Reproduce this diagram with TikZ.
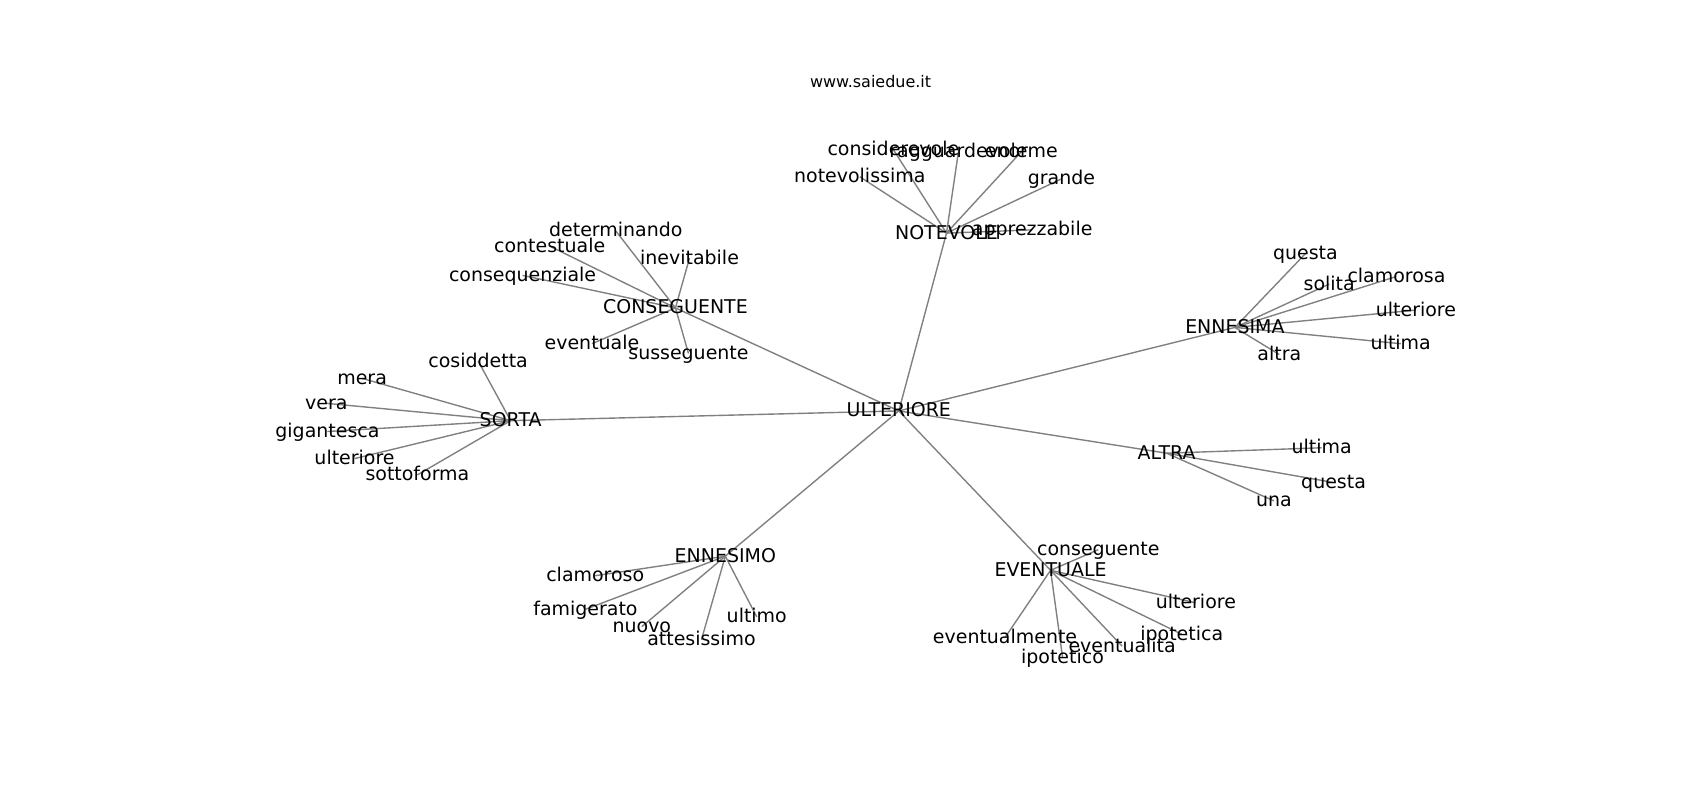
\documentclass[tikz,border=0pt]{standalone}
\usepackage{fontspec}
\setmainfont{DejaVu Sans}
\pgfdeclarelayer{bg}
\pgfsetlayers{bg,main}
\tikzset{
  lbl/.style={inner sep=0pt, text height=1.1em, text depth=0.236em, anchor=center, font=\fontsize{13.65}{16}\selectfont},
  ttl/.style={inner sep=0pt, anchor=center, font=\fontsize{11.5}{14}\selectfont},
  edge/.style={draw=gray, line width=1pt}
}
\begin{document}
\begin{tikzpicture}[x=0.7806pt, y=-0.7806pt]
\useasboundingbox (0,0) rectangle (1568,738);
\node[ttl] (title) at (803,75) {www.saiedue.it};
% hubs
\node[lbl] (U) at (829,379) {ULTERIORE};
\node[lbl] (NOT) at (873,215) {NOTEVOLE};
\node[lbl] (CON) at (623,284) {CONSEGUENTE};
\node[lbl] (SOR) at (471,388) {SORTA};
\node[lbl] (ENA) at (1139,302) {ENNESIMA};
\node[lbl] (ALT) at (1076,418) {ALTRA};
\node[lbl] (ENO) at (669,513) {ENNESIMO};
\node[lbl] (EVE) at (969,526) {EVENTUALE};
% NOTEVOLE leaves
\node[lbl] (n1) at (824,138) {considerevole};
\node[lbl] (n2) at (884,140) {ragguardevole};
\node[lbl] (n3) at (942,140) {enorme};
\node[lbl] (n4) at (793,163) {notevolissima};
\node[lbl] (n5) at (979,165) {grande};
\node[lbl] (n6) at (952,212) {apprezzabile};
% CONSEGUENTE leaves
\node[lbl] (c1) at (568,213) {determinando};
\node[lbl] (c2) at (507,227) {contestuale};
\node[lbl] (c3) at (482,254) {consequenziale};
\node[lbl] (c4) at (636,238) {inevitabile};
\node[lbl] (c5) at (546,317) {eventuale};
\node[lbl] (c6) at (635,326) {susseguente};
% SORTA leaves
\node[lbl] (s1) at (441,333) {cosiddetta};
\node[lbl] (s2) at (334,349) {mera};
\node[lbl] (s3) at (301,372) {vera};
\node[lbl] (s4) at (302,398) {gigantesca};
\node[lbl] (s5) at (327,423) {ulteriore};
\node[lbl] (s6) at (385,438) {sottoforma};
% ENNESIMA leaves
\node[lbl] (a1) at (1204,234) {questa};
\node[lbl] (a2) at (1226,262) {solita};
\node[lbl] (a3) at (1288,255) {clamorosa};
\node[lbl] (a4) at (1306,286) {ulteriore};
\node[lbl] (a5) at (1292,317) {ultima};
\node[lbl] (a6) at (1180,327) {altra};
% ALTRA leaves
\node[lbl] (l1) at (1219,413) {ultima};
\node[lbl] (l2) at (1230,445) {questa};
\node[lbl] (l3) at (1175,462) {una};
% ENNESIMO leaves
\node[lbl] (o1) at (549,531) {clamoroso};
\node[lbl] (o2) at (540,562) {famigerato};
\node[lbl] (o3) at (592,578) {nuovo};
\node[lbl] (o4) at (647,590) {attesissimo};
\node[lbl] (o5) at (698,569) {ultimo};
% EVENTUALE leaves
\node[lbl] (e1) at (1013,507) {conseguente};
\node[lbl] (e2) at (1103,556) {ulteriore};
\node[lbl] (e3) at (1090,585) {ipotetica};
\node[lbl] (e4) at (1035,596) {eventualita};
\node[lbl] (e5) at (927,588) {eventualmente};
\node[lbl] (e6) at (980,606) {ipotetico};
\begin{pgfonlayer}{bg}
\foreach \h in {NOT,CON,SOR,ENA,ALT,ENO,EVE}
  \draw[edge] (U.center) -- (\h.center);
\foreach \l in {n1,n2,n3,n4,n5,n6}
  \draw[edge] (NOT.center) -- (\l.center);
\foreach \l in {c1,c2,c3,c4,c5,c6}
  \draw[edge] (CON.center) -- (\l.center);
\foreach \l in {s1,s2,s3,s4,s5,s6}
  \draw[edge] (SOR.center) -- (\l.center);
\foreach \l in {a1,a2,a3,a4,a5,a6}
  \draw[edge] (ENA.center) -- (\l.center);
\foreach \l in {l1,l2,l3}
  \draw[edge] (ALT.center) -- (\l.center);
\foreach \l in {o1,o2,o3,o4,o5}
  \draw[edge] (ENO.center) -- (\l.center);
\foreach \l in {e1,e2,e3,e4,e5,e6}
  \draw[edge] (EVE.center) -- (\l.center);
\end{pgfonlayer}
\end{tikzpicture}
\end{document}
